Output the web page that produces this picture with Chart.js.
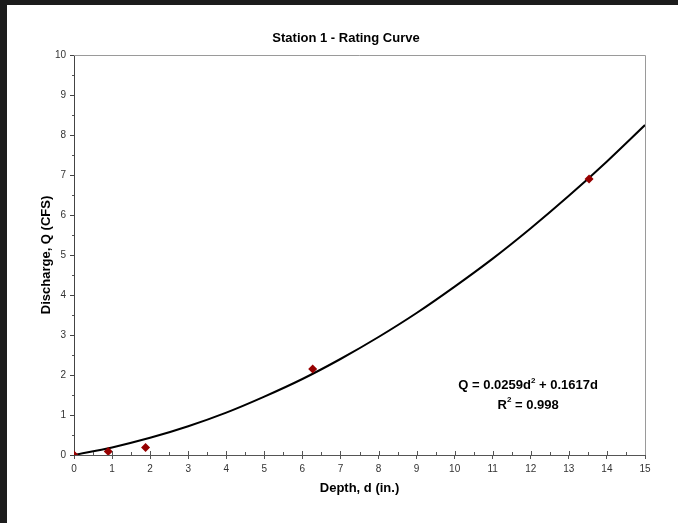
<!DOCTYPE html>
<html>
<head>
<meta charset="utf-8">
<script src="https://cdn.jsdelivr.net/npm/chart.js@4/dist/chart.umd.min.js"></script>
<style>
  body { margin: 0; background: #1c1c1c; width: 678px; height: 523px; overflow: hidden; }
  #wrap { position: absolute; left: 7px; top: 5px; width: 671px; height: 518px; background: #fff; }
</style>
</head>
<body>
<div id="wrap"><canvas id="myChart" width="671" height="518"></canvas></div>
<script>
// measured points
const depth = [0, 0.9, 1.88, 6.27, 13.53]
const discharge = [0, 0.09, 0.19, 2.15, 6.9]

// trendline
const curveDepth = [0, 1, 2, 3, 4, 5, 6, 7, 8, 9, 10, 11, 12, 13, 14, 15]
const curveQ = [0, 0.19, 0.43, 0.72, 1.06, 1.46, 1.90, 2.40, 2.95, 3.55, 4.21, 4.91, 5.67, 6.48, 7.34, 8.25]

const chartTitle = 'Station 1 - Rating Curve'
// equation pieces: [text, superscript?]
const eqLine1 = [['Q = 0.0259d', false], ['2', true], [' + 0.1617d', false]]
const eqLine2 = [['R', false], ['2', true], [' = 0.998', false]]

const font = "'Liberation Sans', Arial, sans-serif"

function drawPieces(ctx, pieces, cx, cy) {
  const big = 'bold 13px ' + font
  const small = 'bold 8px ' + font
  let w = 0
  pieces.forEach(([t, sup]) => {
    ctx.font = sup ? small : big
    w += ctx.measureText(t).width
  })
  let x = cx - w / 2
  pieces.forEach(([t, sup]) => {
    ctx.font = sup ? small : big
    ctx.fillText(t, x, sup ? cy - 5 : cy)
    x += ctx.measureText(t).width
  })
}

const extras = {
  id: 'extras',
  afterDraw(chart) {
    const ctx = chart.ctx
    const a = chart.chartArea
    const xs = chart.scales.x
    const ys = chart.scales.y
    ctx.save()
    // plot box top and right
    ctx.strokeStyle = '#9a9a9a'
    ctx.lineWidth = 1
    ctx.beginPath()
    ctx.moveTo(a.left, a.top + 0.5)
    ctx.lineTo(a.right + 0.5, a.top + 0.5)
    ctx.lineTo(a.right + 0.5, a.bottom)
    ctx.stroke()
    // minor ticks
    ctx.strokeStyle = '#555'
    ctx.beginPath()
    for (let v = 0.5; v < 15; v += 1) {
      const px = Math.round(xs.getPixelForValue(v)) + 0.5
      ctx.moveTo(px, a.bottom)
      ctx.lineTo(px, a.bottom - 3)
    }
    for (let v = 1; v < 15; v += 1) {
      const px = Math.round(xs.getPixelForValue(v)) + 0.5
      ctx.moveTo(px, a.bottom)
      ctx.lineTo(px, a.bottom - 4)
    }
    for (let v = 0.5; v < 10; v += 1) {
      const py = Math.round(ys.getPixelForValue(v)) + 0.5
      ctx.moveTo(a.left, py)
      ctx.lineTo(a.left - 2, py)
    }
    ctx.stroke()
    // title
    ctx.fillStyle = '#000'
    ctx.textAlign = 'center'
    ctx.textBaseline = 'middle'
    ctx.font = 'bold 13px ' + font
    ctx.fillText(chartTitle, 339, 33)
    // equation
    ctx.textAlign = 'left'
    const ex = xs.getPixelForValue(11.93)
    drawPieces(ctx, eqLine1, ex, ys.getPixelForValue(1.73))
    drawPieces(ctx, eqLine2, ex, ys.getPixelForValue(1.25))
    ctx.restore()
  }
}

const ctx = document.getElementById('myChart').getContext('2d')
new Chart(ctx, {
  type: 'scatter',
  data: {
    datasets: [
      {
        label: 'Trend',
        type: 'line',
        data: curveDepth.map((d, i) => ({ x: d, y: curveQ[i] })),
        borderColor: '#000',
        borderWidth: 2,
        pointRadius: 0,
        fill: false,
        cubicInterpolationMode: 'monotone',
        order: 2,
      },
      {
        label: 'Measured',
        data: depth.map((d, i) => ({ x: d, y: discharge[i] })),
        pointStyle: 'rectRot',
        pointRadius: 4.5,
        backgroundColor: '#960000',
        borderColor: '#960000',
        borderWidth: 0,
        order: 1,
      },
    ],
  },
  options: {
    responsive: false,
    animation: false,
    layout: { padding: { top: 50, right: 33, left: 0, bottom: 0 } },
    plugins: {
      legend: { display: false },
      tooltip: { enabled: false },
      title: { display: false },
    },
    scales: {
      x: {
        type: 'linear',
        min: 0,
        max: 15,
        afterFit(s) { s.height = 68 },
        border: { color: '#555', width: 1 },
        grid: { drawOnChartArea: false, drawTicks: true, tickLength: 4, tickColor: '#555' },
        ticks: { stepSize: 1, color: '#333', padding: 4, font: { family: font, size: 10 } },
        title: {
          display: true,
          text: 'Depth, d (in.)',
          color: '#000',
          font: { family: font, size: 13, weight: 'bold' },
          padding: { top: 8, bottom: 27 },
        },
      },
      y: {
        min: 0,
        max: 10,
        afterFit(s) { s.width = 67 },
        border: { color: '#444', width: 1 },
        grid: { drawOnChartArea: false, drawTicks: true, tickLength: 4, tickColor: '#444' },
        ticks: { stepSize: 1, color: '#333', padding: 4, font: { family: font, size: 10 } },
        title: {
          display: true,
          text: 'Discharge, Q (CFS)',
          color: '#000',
          font: { family: font, size: 13, weight: 'bold' },
          padding: { top: 32, bottom: 0 },
        },
      },
    },
  },
  plugins: [extras],
})
</script>
</body>
</html>
